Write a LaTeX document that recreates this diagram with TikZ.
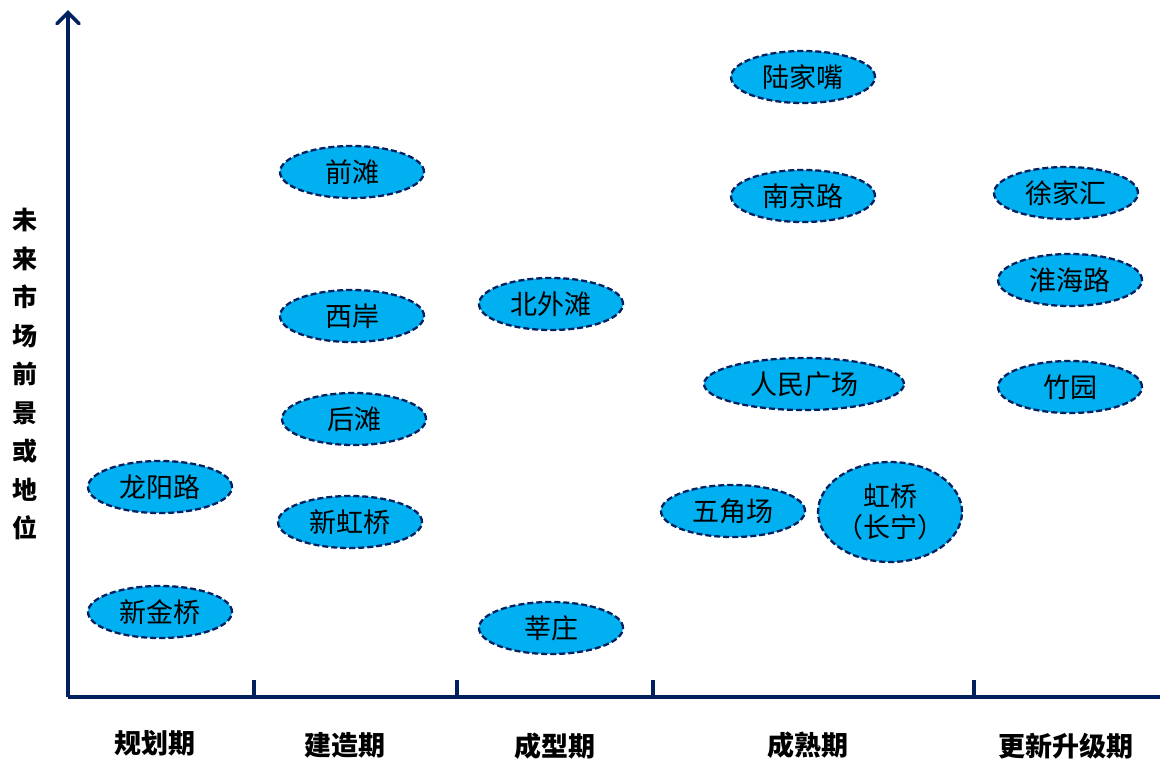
\documentclass[tikz,border=0pt]{standalone}
\usepackage{fontspec}
\setmainfont{Noto Sans CJK SC}
\usetikzlibrary{shapes.geometric,arrows.meta}
\definecolor{navy}{HTML}{002060}
\definecolor{cyanfill}{HTML}{00B0F0}
\begin{document}
\begin{tikzpicture}[x=1pt,y=-1pt,
  spot/.style={ellipse,draw=navy,fill=cyanfill,line width=2.3pt,
    dash pattern=on 6pt off 3pt,
    minimum width=144pt,minimum height=52pt,inner sep=0pt,
    font=\fontsize{27}{31}\selectfont},
  axis/.style={navy,line width=3.6pt},
  phase/.style={font=\fontsize{27}{31}\selectfont\bfseries},
]
\useasboundingbox (0,0) rectangle (1160,761);
\coordinate (o) at (68,697);
\coordinate (ytop) at (68,10);
\coordinate (xend) at (1160,697);
\draw[axis,-{Straight Barb[length=11pt,width=22pt,line cap=round]}] (o) -- (ytop);
\draw[axis] (o) -- (xend);
\foreach \x/\n in {254/a,457/b,653/c,974/d}{
  \coordinate (t\n) at (\x,697);
  \coordinate (u\n) at (\x,680);
  \draw[axis] (t\n) -- (u\n);
}
\node[phase] (p1) at (155,743) {规划期};
\node[phase] (p2) at (345,745) {建造期};
\node[phase] (p3) at (555,746) {成型期};
\node[phase] (p4) at (808,745) {成熟期};
\node[phase] (p5) at (1066,746) {更新升级期};
\node[font=\fontsize{25}{38.5}\selectfont\bfseries,align=center] (ylab) at (25,374)
  {未\\来\\市\\场\\前\\景\\或\\地\\位};
\node[spot] (ljz) at (803,77) {陆家嘴};
\node[spot] (qt) at (352,172) {前滩};
\node[spot] (njl) at (803,196) {南京路};
\node[spot] (xjh) at (1066,193) {徐家汇};
\node[spot] (hhl) at (1070,280) {淮海路};
\node[spot] (xa) at (352,316) {西岸};
\node[spot] (bwt) at (551,304) {北外滩};
\node[spot,minimum width=200pt] (rmgc) at (804,384) {人民广场};
\node[spot] (zy) at (1070,387) {竹园};
\node[spot] (ht) at (354,419) {后滩};
\node[spot] (lyl) at (160,487) {龙阳路};
\node[spot] (xhq) at (350,522) {新虹桥};
\node[spot] (wjc) at (733,511) {五角场};
\node[spot,minimum height=100pt,inner xsep=-6pt,align=center] (hq) at (890,512) {虹桥\\（长宁）};
\node[spot] (xjq) at (160,612) {新金桥};
\node[spot] (xz) at (551,628) {莘庄};
\end{tikzpicture}
\end{document}
